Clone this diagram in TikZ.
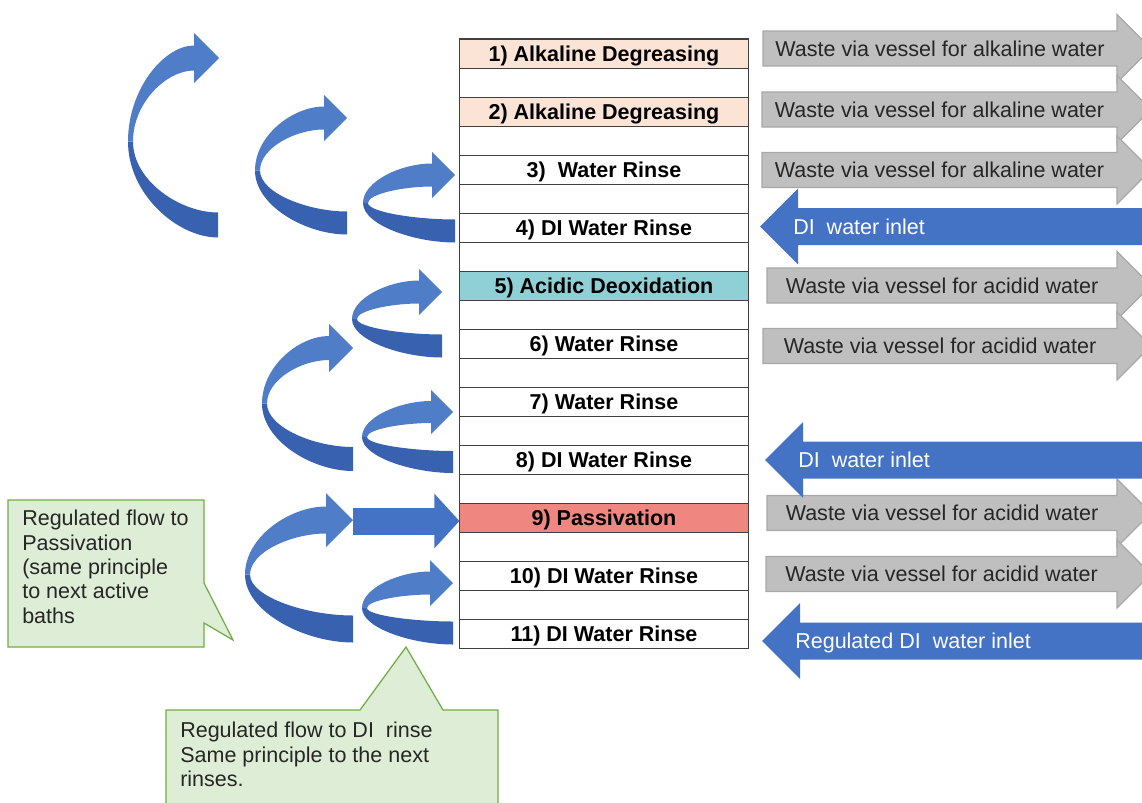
\documentclass[tikz,border=0pt]{standalone}
\usepackage{fontspec}
\setmainfont{Liberation Sans}
\usetikzlibrary{positioning,arrows.meta}
\definecolor{bathpeach}{RGB}{251,228,213}
\definecolor{bathteal}{RGB}{143,208,214}
\definecolor{bathred}{RGB}{240,134,128}
\definecolor{wastefill}{RGB}{191,191,191}
\definecolor{wasteline}{RGB}{168,168,168}
\definecolor{flowblue}{RGB}{68,114,196}
\definecolor{ribfrontc}{RGB}{79,125,200}
\definecolor{ribbackc}{RGB}{56,98,175}
\definecolor{notefill}{RGB}{222,238,214}
\definecolor{noteline}{RGB}{112,173,71}
\newcommand{\bigfont}{\fontsize{15.3pt}{17.3pt}\selectfont}
\tikzset{
  bath/.style={rectangle,draw=black!75,line width=0.7pt,minimum width=7.2cm,minimum height=7.25mm,
               inner sep=0pt,text height=11pt,text depth=0pt,font=\bigfont\bfseries},
  wastebox/.style={fill=wastefill,draw=wasteline,line width=0.8pt},
  wastetxt/.style={font=\bigfont,text=black!85,inner sep=0pt,text height=11pt,text depth=0pt},
  inletbox/.style={fill=flowblue},
  inlettxt/.style={font=\bigfont,text=white,inner sep=0pt,anchor=west,text height=11pt,text depth=0pt},
  ribfront/.style={fill=ribfrontc},
  ribback/.style={fill=ribbackc},
  feed/.style={flowblue,line width=6.75mm,-{Triangle[length=6.25mm,width=13.25mm]}},
  note/.style={fill=notefill,draw=noteline,line width=0.9pt},
  notetxt/.style={font=\bigfont,align=left,inner sep=0pt,anchor=north west,text=black!85},
}
% grey waste arrow: name, left x, centre y, text
\newcommand{\wastearrow}[4]{%
  \draw[wastebox] (#2,{#3-17.5}) -- (1117,{#3-17.5}) -- (1117,{#3-34}) -- (1151,#3)
    -- (1117,{#3+34}) -- (1117,{#3+17.5}) -- (#2,{#3+17.5}) -- cycle;
  \node[wastetxt] (#1) at ({(#2+1117)/2},#3) {#4};
}
% blue inlet arrow: name, tip x, centre y, text, text x
\newcommand{\inletarrow}[5]{%
  \fill[inletbox] (#2,#3) -- ({#2+38},{#3-38}) -- ({#2+38},{#3-18.5}) -- (1150,{#3-18.5})
    -- (1150,{#3+18.5}) -- ({#2+38},{#3+18.5}) -- ({#2+38},{#3+38}) -- cycle;
  \node[inlettxt] (#1) at (#5,#3) {#4};
}
% curved ribbon arrow: left x, tail x, tail y, tip x, tip y, half thickness
\newcommand{\ribbon}[6]{%
  \pgfmathsetmacro\rbxb{#4-2*#6}
  \pgfmathsetmacro\rbym{(#3+#5)/2}
  \pgfmathsetmacro\rbxi{#1+5}
  \fill[ribback] (#1,\rbym) .. controls (#1,{\rbym+0.55*(#3+#6-\rbym)}) and ({#1+0.55*(#2-#1)},{#3+#6}) .. (#2,{#3+#6})
    -- (#2,{#3-#6}) .. controls ({\rbxi+0.55*(#2-\rbxi)},{#3-#6}) and (\rbxi,{\rbym+0.55*(#3-#6-\rbym)}) .. (\rbxi,\rbym) -- cycle;
  \fill[ribfront] (#1,\rbym) .. controls (#1,{\rbym-0.55*(\rbym-#5+#6)}) and ({#1+0.55*(\rbxb-#1)},{#5-#6}) .. (\rbxb,{#5-#6})
    -- (\rbxb,{#5-2*#6}) -- (#4,#5) -- (\rbxb,{#5+2*#6}) -- (\rbxb,{#5+#6})
    .. controls ({\rbxi+0.55*(\rbxb-\rbxi)},{#5+#6}) and (\rbxi,{\rbym-0.55*(\rbym-#5-#6)}) .. (\rbxi,\rbym) -- cycle;
}

\begin{document}
\begin{tikzpicture}[x=0.025cm,y=-0.025cm]
  \useasboundingbox (0,0) rectangle (1142,802);
  % ---- baths ----
  \node[bath,fill=bathpeach] (b1) at (604,53.5) {1) Alkaline Degreasing};
  \node[bath,fill=bathpeach] (b2) at (604,111.5) {2) Alkaline Degreasing};
  \node[bath] (b3) at (604,169.5) {3)~ Water Rinse};
  \node[bath] (b4) at (604,227.5) {4) DI Water Rinse};
  \node[bath,fill=bathteal] (b5) at (604,285.5) {5) Acidic Deoxidation};
  \node[bath] (b6) at (604,343.5) {6) Water Rinse};
  \node[bath] (b7) at (604,401.5) {7) Water Rinse};
  \node[bath] (b8) at (604,459.5) {8) DI Water Rinse};
  \node[bath,fill=bathred] (b9) at (604,517.5) {9) Passivation};
  \node[bath] (b10) at (604,575.5) {10) DI Water Rinse};
  \node[bath] (b11) at (604,633.5) {11) DI Water Rinse};
  \draw[black!75,line width=0.7pt] (b1.north west) rectangle (b11.south east);
  % ---- waste outlets ----
  \wastearrow{w1}{763}{48.5}{Waste via vessel for alkaline water}
  \wastearrow{w2}{762}{109.5}{Waste via vessel for alkaline water}
  \wastearrow{w3}{762}{170}{Waste via vessel for alkaline water}
  \wastearrow{w5}{767}{285.5}{Waste via vessel for acidid water}
  \wastearrow{w6}{763}{346}{Waste via vessel for acidid water}
  \wastearrow{w9}{767}{513}{Waste via vessel for acidid water}
  \wastearrow{w10}{766}{574}{Waste via vessel for acidid water}
  % ---- water inlets ----
  \inletarrow{in1}{760}{226.5}{DI~ water inlet}{793}
  \inletarrow{in2}{765}{460}{DI~ water inlet}{798}
  \inletarrow{in3}{762}{641}{Regulated DI~ water inlet}{795}
  % ---- cascade flows ----
  \ribbon{128}{218}{225}{219}{58}{12.5}
  \ribbon{255}{347}{223}{347}{118}{11.5}
  \ribbon{363}{455}{231}{455}{175}{11.5}
  \ribbon{352}{442}{346}{442}{292}{11.5}
  \ribbon{262}{353}{459}{353}{348}{12}
  \ribbon{362}{453}{462}{453}{412}{11}
  \ribbon{245}{353}{629}{353}{520}{13.5}
  \ribbon{362}{453}{633}{453}{583}{11.5}
  \coordinate (pfrom) at (353,521);
  \draw[feed] (pfrom) -- (pfrom -| b9.west);
  % ---- notes ----
  \draw[note] (8,500) -- (204,500) -- (204,583) -- (233,640) -- (204,623) -- (204,647) -- (8,647) -- cycle;
  \node[notetxt] (n1) at (22,510) {Regulated flow to\\Passivation\\(same principle\\to next active\\baths};
  \draw[note] (166,710) -- (360,710) -- (406,647) -- (443,710) -- (498,710) -- (498,815) -- (166,815) -- cycle;
  \node[notetxt] (n2) at (180,722) {Regulated flow to DI~ rinse\\Same principle to the next\\rinses.};
\end{tikzpicture}
\end{document}
